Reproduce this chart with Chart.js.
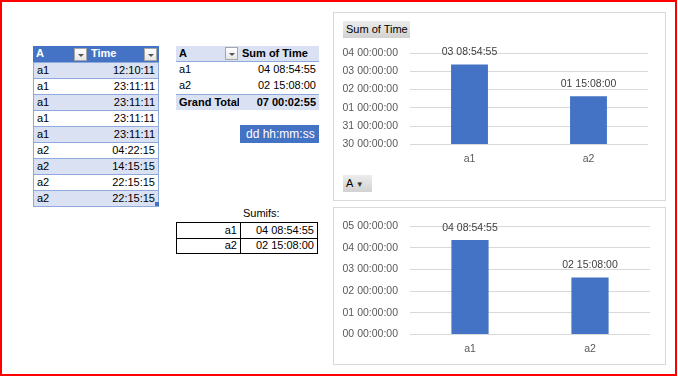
<!DOCTYPE html>
<html>
<head>
<meta charset="utf-8">
<script src="https://cdn.jsdelivr.net/npm/chart.js@4.4.0/dist/chart.umd.min.js"></script>
<style>
body { margin: 0; width: 678px; height: 376px; overflow: hidden; background: #fff; position: relative;
       font-family: "Liberation Sans", Arial, sans-serif; font-size: 11px; color: #000; }
#frame { position: absolute; left: 0; top: 0; width: 673px; height: 372px; border: 2px solid #f00; }
.c { position: absolute; box-sizing: border-box; height: 16px; line-height: 15px; padding: 0 3px; white-space: nowrap; }
.r { text-align: right; }
.b { font-weight: bold; }
.flt { position: absolute; width: 13px; height: 13px; box-sizing: border-box; border: 1px solid #a6a6a6;
       background: linear-gradient(#fff, #e6e6e6); }
.flt::after { content: ""; position: absolute; left: 3px; top: 5px; border-left: 3px solid transparent;
              border-right: 3px solid transparent; border-top: 3px solid #555; }
.box { position: absolute; box-sizing: border-box; border: 1px solid #d9d9d9; background: #fff; }
.box canvas { position: absolute; left: 0; top: 0; }
.btn { position: absolute; box-sizing: border-box; background: linear-gradient(#ececec, #d2d2d2); white-space: nowrap;
       font-size: 11px; line-height: 17px; padding: 0 3px; color: #000; }
</style>
</head>
<body>
<div id="frame"></div>
<div id="sheet"></div>

<div class="box" style="left:333px; top:12px; width:333px; height:189px;">
  <canvas id="pivotChart" width="331" height="187"></canvas>
  <div class="btn" style="left:9px; top:8px; width:67px; height:17px; text-align:center;">Sum of Time</div>
  <div class="btn" style="left:9px; top:162px; width:29px; height:17px;">A <span style="font-size:8px;color:#333">&#9660;</span></div>
</div>
<div class="box" style="left:333px; top:207px; width:333px; height:158px;">
  <canvas id="sumifsChart" width="331" height="156"></canvas>
</div>

<script>
// source table
const colA = ["a1", "a1", "a1", "a1", "a1", "a2", "a2", "a2", "a2"];
const colTime = ["12:10:11", "23:11:11", "23:11:11", "23:11:11", "23:11:11", "04:22:15", "14:15:15", "22:15:15", "22:15:15"];

// totals per category (in days)
const categories = ["a1", "a2"];
const sumOfTime = [4.3715, 2.6306];
const pivotText = ["04 08:54:55", "02 15:08:00"];
const grandTotalText = "07 00:02:55";

// chart labels
const pivotBarLabels = ["03 08:54:55", "01 15:08:00"];
const pivotTicks = ["30 00:00:00", "31 00:00:00", "01 00:00:00", "02 00:00:00", "03 00:00:00", "04 00:00:00"];
const sumifsBarLabels = ["04 08:54:55", "02 15:08:00"];
const sumifsTicks = ["00 00:00:00", "01 00:00:00", "02 00:00:00", "03 00:00:00", "04 00:00:00", "05 00:00:00"];

const sheet = document.getElementById("sheet");
function cell(x, y, w, text, cls, style) {
    const d = document.createElement("div");
    d.className = "c " + (cls || "");
    d.style.left = x + "px";
    d.style.top = y + "px";
    d.style.width = w + "px";
    if (style) d.style.cssText += style;
    d.textContent = text;
    sheet.appendChild(d);
    return d;
}
function filterBtn(x, y) {
    const d = document.createElement("div");
    d.className = "flt";
    d.style.left = x + "px";
    d.style.top = y + "px";
    sheet.appendChild(d);
}

// table 1
cell(33, 46, 55, "A", "b", "background:#4472C4;color:#fff;");
cell(88, 46, 71, "Time", "b", "background:#4472C4;color:#fff;");
filterBtn(74, 48);
filterBtn(144, 48);
colA.forEach((a, i) => {
    const y = 62 + i * 16;
    const bg = i % 2 === 0 ? "#D9E1F2" : "#fff";
    const st = "background:" + bg + ";border-top:1px solid #8EA9DB;";
    cell(33, y, 55, a, "", st + "border-left:1px solid #8EA9DB;");
    cell(88, y, 71, colTime[i], "r", st + "border-right:1px solid #8EA9DB;");
});
cell(33, 206, 126, "", "", "height:1px;background:#8EA9DB;");
cell(155, 202, 4, "", "", "height:4px;padding:0;background:#4472C4;");

// pivot table
cell(176, 46, 63, "A", "b", "background:#D9E1F2;border-bottom:1px solid #8EA9DB;");
cell(239, 46, 80, "Sum of Time", "b", "background:#D9E1F2;border-bottom:1px solid #8EA9DB;");
filterBtn(225, 47);
categories.forEach((c, i) => {
    cell(176, 62 + i * 16, 63, c, "");
    cell(239, 62 + i * 16, 80, pivotText[i], "r");
});
cell(176, 94, 63, "Grand Total", "b", "background:#D9E1F2;border-top:1px solid #8EA9DB;");
cell(239, 94, 80, grandTotalText, "b r", "background:#D9E1F2;border-top:1px solid #8EA9DB;");
cell(240, 125, 79, "dd hh:mm:ss", "", "height:18px;line-height:18px;background:#4472C4;color:#fff;font-size:12px;padding-left:6px;");

// sumifs block
cell(240, 206, 78, "Sumifs:", "", "text-align:left;padding-left:3px;");
categories.forEach((c, i) => {
    const y = 222 + i * 16;
    cell(176, y, 65, c, "r", "border:1px solid #000;" + (i ? "border-top:none;height:16px;" : "height:17px;"));
    cell(240, y, 78, sumifsBarLabels[i], "r", "border:1px solid #000;" + (i ? "border-top:none;height:16px;" : "height:17px;"));
});

const barLabels = {
    id: "barLabels",
    afterDatasetsDraw(chart, args, opts) {
        const ctx = chart.ctx;
        ctx.save();
        ctx.font = "10.5px 'Liberation Sans'";
        ctx.fillStyle = "#404040";
        ctx.textAlign = "center";
        ctx.textBaseline = "middle";
        chart.getDatasetMeta(0).data.forEach((bar, i) => {
            ctx.fillText(opts.labels[i], bar.x, bar.y - 12);
        });
        ctx.restore();
    }
};

function drawChart(id, values, ticks, labels, padding) {
    const font = { family: "Liberation Sans", size: 10.5 };
    new Chart(document.getElementById(id), {
        type: "bar",
        data: {
            labels: categories,
            datasets: [{
                data: values,
                backgroundColor: "#4472C4",
                categoryPercentage: 1,
                barPercentage: 0.31
            }]
        },
        options: {
            responsive: false,
            animation: false,
            devicePixelRatio: 1,
            layout: { padding: padding },
            plugins: {
                legend: { display: false },
                tooltip: { enabled: false },
                barLabels: { labels: labels }
            },
            scales: {
                x: {
                    grid: { display: false, drawTicks: false },
                    border: { display: false },
                    ticks: { color: "#595959", font: font, padding: 8 }
                },
                y: {
                    min: 0,
                    max: 5,
                    ticks: { stepSize: 1, autoSkip: false, color: "#595959", font: font, padding: 12, callback: v => ticks[v] },
                    grid: { color: "#D9D9D9", drawTicks: false },
                    border: { display: false },
                    afterFit: s => { s.width = 76; }
                }
            }
        },
        plugins: [barLabels]
    });
}

drawChart("pivotChart", sumOfTime, pivotTicks, pivotBarLabels, { left: 0, right: 17, top: 40, bottom: 27 });
drawChart("sumifsChart", sumOfTime, sumifsTicks, sumifsBarLabels, { left: 0, right: 15, top: 13, bottom: 1 });
</script>
</body>
</html>
